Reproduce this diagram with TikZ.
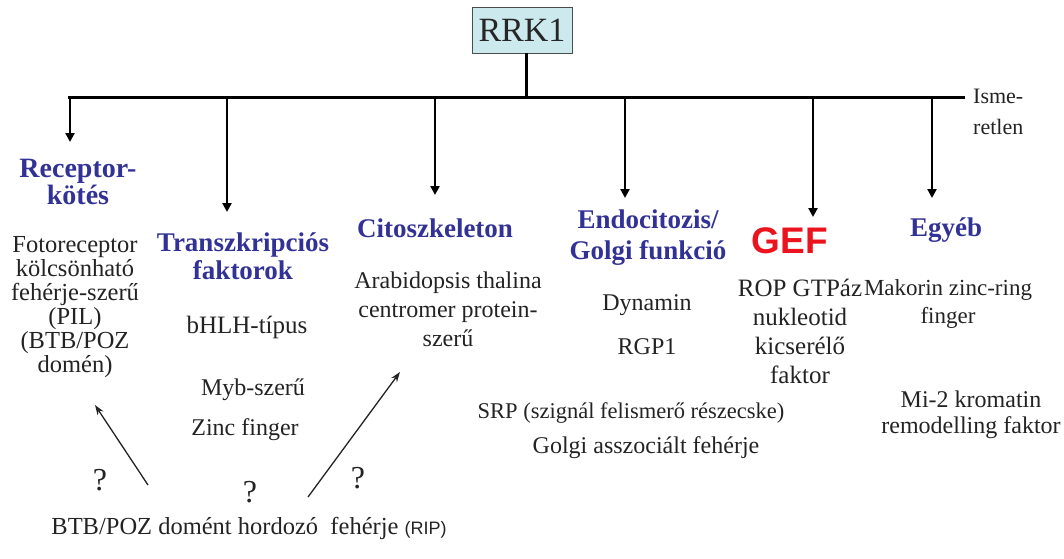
\documentclass[tikz,border=0pt]{standalone}
\usepackage{fontspec}
\setmainfont{Liberation Serif}
\newfontfamily\arialf{Liberation Sans}
\usetikzlibrary{arrows.meta}
\definecolor{headblue}{RGB}{50,50,150}
\definecolor{txt}{RGB}{35,35,35}
\definecolor{boxfill}{RGB}{204,234,238}
\definecolor{gefred}{RGB}{235,20,30}
\tikzset{
  bodytext/.style={text=txt,align=center,inner sep=0pt,font=\fontsize{24}{24}\selectfont},
  headtext/.style={text=headblue,align=center,inner sep=0pt,font=\fontsize{27}{28}\selectfont\bfseries},
  qmark/.style={text=txt,inner sep=0pt,font=\fontsize{32}{32}\selectfont},
  bar/.style={line width=3pt,draw=black},
  downarrow/.style={line width=2.6pt,-{Triangle[length=9pt,width=9pt]}},
  thinarrow/.style={line width=1.3pt,draw=txt,-{Stealth[length=10pt,width=7pt]}},
}
\begin{document}
\begin{tikzpicture}[x=1pt,y=-1pt]
\useasboundingbox (0,0) rectangle (1064,558);
% root
\node[draw=black!70,line width=0.8pt,fill=boxfill,minimum width=100pt,minimum height=46pt,inner sep=0pt,font=\fontsize{34}{36}\selectfont,text=black!85] (rrk) at (522,30) {RRK1};
% bar
\coordinate (bl) at (68,97);
\coordinate (bm) at (526,97);
\coordinate (br) at (965,97);
\draw[bar] (bl) -- (br);
\draw[bar] (rrk.south -| bm) -- (bm);
\node[bodytext,anchor=west,align=left,font=\fontsize{22}{31}\selectfont] (isme) at (973,112) {Isme-\\retlen};
% branch points and tips
\coordinate (s1) at (70,97);   \coordinate (t1) at (70,142);
\coordinate (s2) at (227,97);  \coordinate (t2) at (227,212);
\coordinate (s3) at (435,97);  \coordinate (t3) at (435,195);
\coordinate (s4) at (625,97);  \coordinate (t4) at (625,198);
\coordinate (s5) at (813,97);  \coordinate (t5) at (813,217);
\coordinate (s6) at (932,97);  \coordinate (t6) at (932,198);
\foreach \i in {1,...,6} {\draw[downarrow] (s\i) -- (t\i);}
% column 1
\node[headtext,font=\fontsize{28}{23}\selectfont\bfseries] (h1) at (78,182) {Receptor-\\kötés};
\node[bodytext,font=\fontsize{24.5}{24}\selectfont] (c1) at (75,307) {Fotoreceptor\\kölcsönható\\fehérje-szerű\\(PIL)\\(BTB/POZ\\domén)};
% column 2
\node[headtext] (h2) at (243,256) {Transzkripciós\\faktorok};
\node[bodytext,font=\fontsize{25}{24}\selectfont] (bhlh) at (247,327) {bHLH-típus};
\node[bodytext] (myb) at (253,390) {Myb-szerű};
\node[bodytext] (zinc) at (245,430) {Zinc finger};
% column 3
\node[headtext] (h3) at (435,228) {Citoszkeleton};
\node[bodytext,font=\fontsize{24}{29}\selectfont] (c3) at (448,309) {Arabidopsis thalina\\centromer protein-\\szerű};
% column 4
\node[headtext,font=\fontsize{27}{31}\selectfont\bfseries] (h4) at (648,238) {Endocitozis/\\Golgi funkció};
\node[bodytext] (dyn) at (647,305) {Dynamin};
\node[bodytext] (rgp) at (647,347) {RGP1};
\node[bodytext,font=\fontsize{22.5}{24}\selectfont] (srp) at (631,413) {SRP (szignál felismerő részecske)};
\node[bodytext] (golgi) at (646,448) {Golgi asszociált fehérje};
% column 5
\node[inner sep=0pt,text=gefred,font=\fontsize{37}{38}\selectfont\arialf\bfseries] (gef) at (790,241) {GEF};
\node[bodytext,font=\fontsize{25}{29}\selectfont] (c5) at (800,331) {ROP GTPáz\\nukleotid\\kicserélő\\faktor};
% column 6
\node[headtext] (h6) at (946,230) {Egyéb};
\node[bodytext,font=\fontsize{23}{28}\selectfont] (mak) at (948,304) {Makorin zinc-ring\\finger};
\node[bodytext,font=\fontsize{24}{26}\selectfont] (mi2) at (971,415) {Mi-2 kromatin\\remodelling faktor};
% question marks
\node[qmark] (q1) at (100,480) {?};
\node[qmark] (q2) at (250,492) {?};
\node[qmark] (q3) at (358,478) {?};
% bottom
\node[bodytext,font=\fontsize{24.5}{26}\selectfont] (rip) at (249,528) {BTB/POZ domént hordozó\ \ fehérje {\arialf\fontsize{18}{20}\selectfont (RIP)}};
\coordinate (a1s) at (148,485); \coordinate (a1e) at (95,405);
\coordinate (a2s) at (308,497); \coordinate (a2e) at (400,372);
\draw[thinarrow] (a1s) -- (a1e);
\draw[thinarrow] (a2s) -- (a2e);
\end{tikzpicture}
\end{document}
